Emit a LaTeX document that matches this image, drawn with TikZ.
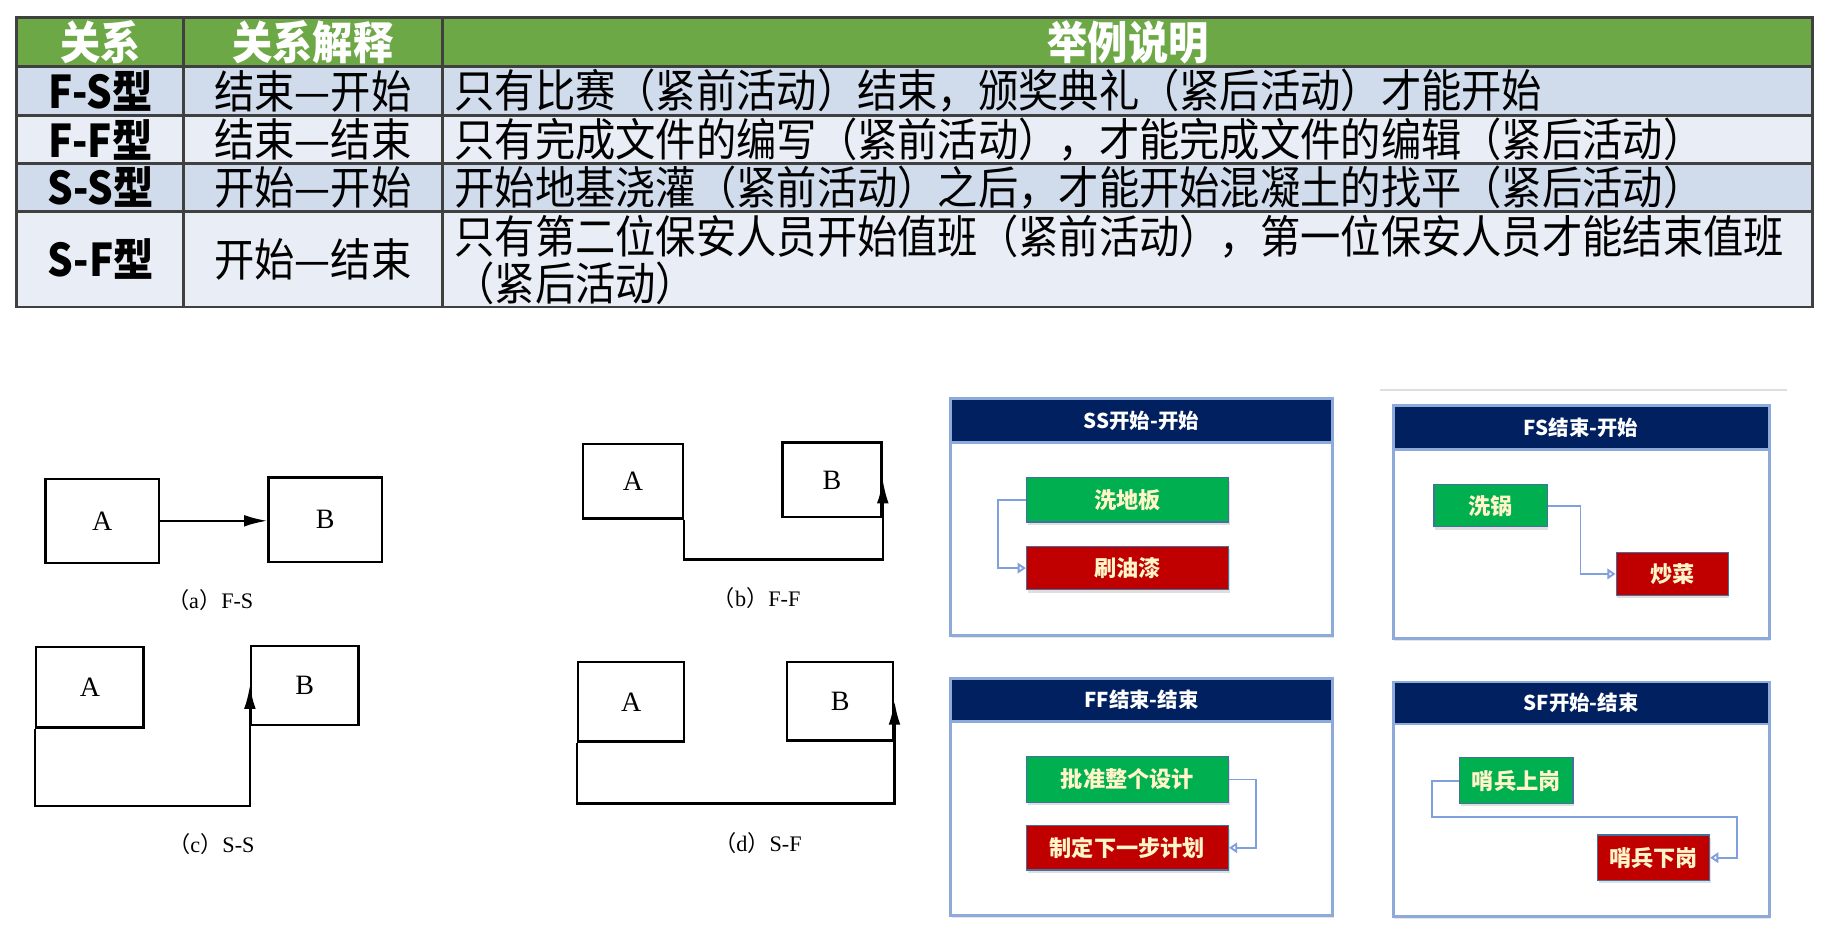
\documentclass[tikz,border=0pt]{standalone}
\usepackage{fontspec}
\usepackage{graphicx}
\setmainfont{Liberation Serif}
\newfontfamily\cjk{Noto Sans CJK SC}
\usetikzlibrary{arrows.meta,shadows}
\definecolor{hdrgreen}{HTML}{6CA846}
\definecolor{rowblue}{HTML}{D0DCEC}
\definecolor{rowlight}{HTML}{E9EDF5}
\definecolor{gridgray}{HTML}{404040}
\definecolor{navy}{HTML}{002060}
\definecolor{panelblue}{HTML}{8EAADB}
\definecolor{taskgreen}{HTML}{00B050}
\definecolor{taskred}{HTML}{C00000}
\definecolor{taskedge}{HTML}{41719C}
\definecolor{tasktext}{HTML}{FFF5C8}
\definecolor{linkblue}{HTML}{7F9FDD}
\newcommand\vstretch[1]{\scalebox{1}[1.12]{#1}}
\newcommand\tabfont{\cjk\fontsize{34.5}{40}\selectfont}
\begin{document}
\begin{tikzpicture}[x=1pt,y=-1pt,
  tcell/.style={inner sep=0pt, font=\tabfont, text=black},
  thead/.style={inner sep=0pt, font=\tabfont\bfseries, text=white},
  tkind/.style={inner sep=0pt, font=\tabfont\bfseries, text=black},
  abox/.style={draw=black, line width=2pt, inner sep=0pt, font=\fontsize{24}{24}\selectfont},
  capt/.style={inner sep=0pt, font=\fontsize{19}{19}\selectfont},
  conn/.style={draw=black, line width=2pt, -{Latex[length=20pt,width=10pt]}},
  panel/.style={draw=panelblue, line width=2.4pt, fill=white, inner sep=0pt, drop shadow={shadow xshift=1pt, shadow yshift=-2pt, opacity=0.2}},
  phead/.style={fill=navy, draw=panelblue, line width=2.4pt, inner sep=0pt, text=white, font=\cjk\bfseries\fontsize{17.5}{18}\selectfont},
  task/.style={draw=taskedge, line width=1pt, inner sep=0pt, text=tasktext, font=\cjk\bfseries\fontsize{19}{19}\selectfont, drop shadow={shadow xshift=1pt, shadow yshift=-2.5pt, opacity=0.25}},
  gtask/.style={task, fill=taskgreen},
  rtask/.style={task, fill=taskred},
  link/.style={draw=linkblue, line width=1.6pt, -{Triangle[open,length=7pt,width=9pt]}}
]
\useasboundingbox (0,0) rectangle (1568,802);
\fill[white] (0,0) rectangle (1568,802);

% ---------------- table ----------------
\fill[hdrgreen] (14,15) rectangle (1552,57);
\fill[rowblue] (14,57) rectangle (1552,99);
\fill[rowlight] (14,99) rectangle (1552,140);
\fill[rowblue] (14,140) rectangle (1552,181);
\fill[rowlight] (14,181) rectangle (1552,263);
\foreach \y in {57,99,140,181} \draw[gridgray,line width=2pt] (14,\y) -- (1552,\y);
\foreach \x in {157,379} \draw[gridgray,line width=2pt] (\x,15) -- (\x,263);
\draw[gridgray,line width=2.2pt] (14,15) rectangle (1552,263);

\node[thead] (h1) at (86,36) {\vstretch{关系}};
\node[thead] (h2) at (268,36) {\vstretch{关系解释}};
\node[thead] (h3) at (966,36) {\vstretch{举例说明}};

\node[tkind] (k1) at (86,78) {\vstretch{F-S型}};
\node[tkind] (k2) at (86,119.5) {\vstretch{F-F型}};
\node[tkind] (k3) at (86,160.5) {\vstretch{S-S型}};
\node[tkind] (k4) at (86,222) {\vstretch{S-F型}};

\node[tcell] (m1) at (268,78) {\vstretch{结束—开始}};
\node[tcell] (m2) at (268,119.5) {\vstretch{结束—结束}};
\node[tcell] (m3) at (268,160.5) {\vstretch{开始—开始}};
\node[tcell] (m4) at (268,222) {\vstretch{开始—结束}};

\node[tcell,anchor=west] (e1) at (389,78) {\vstretch{只有比赛（紧前活动）结束，颁奖典礼（紧后活动）才能开始}};
\node[tcell,anchor=west] (e2) at (389,119.5) {\vstretch{只有完成文件的编写（紧前活动），才能完成文件的编辑（紧后活动）}};
\node[tcell,anchor=west] (e3) at (389,160.5) {\vstretch{开始地基浇灌（紧前活动）之后，才能开始混凝土的找平（紧后活动）}};
\node[tcell,anchor=west] (e4) at (389,203) {\vstretch{只有第二位保安人员开始值班（紧前活动），第一位保安人员才能结束值班}};
\node[tcell,anchor=west] (e5) at (389,243) {\vstretch{（紧后活动）}};

% ---------------- line diagrams ----------------
% (a) F-S
\node[abox, minimum width=97pt, minimum height=72pt] (Aa) at (87.5,446) {A};
\node[abox, minimum width=97pt, minimum height=72pt] (Ba) at (278.5,445) {B};
\draw[conn] (Aa.east) -- (Ba.west |- Aa.east);
\node[capt] (ca) at (180,514) {{\cjk （}a{\cjk ）}F-S};

% (b) F-F
\node[abox, minimum width=86pt, minimum height=64pt] (Ab) at (542,412) {A};
\node[abox, minimum width=85pt, minimum height=64pt] (Bb) at (712.5,411) {B};
\draw[conn] (Ab.south east) -- ++(0,34) -| (Bb.east);
\node[capt] (cb) at (648,512) {{\cjk （}b{\cjk ）}F-F};

% (c) S-S
\node[abox, minimum width=92pt, minimum height=69pt] (Ac) at (77,588.5) {A};
\node[abox, minimum width=92pt, minimum height=68pt] (Bc) at (261,587) {B};
\draw[conn] (Ac.south west) -- ++(0,66) -| (Bc.west);
\node[capt] (cc) at (181,723) {{\cjk （}c{\cjk ）}S-S};

% (d) S-F
\node[abox, minimum width=91pt, minimum height=68pt] (Ad) at (540.5,601) {A};
\node[abox, minimum width=91pt, minimum height=67pt] (Bd) at (719.5,600.5) {B};
\draw[conn] (Ad.south west) -- ++(0,52) -| (Bd.east);
\node[capt] (cd) at (649,722) {{\cjk （}d{\cjk ）}S-F};

% ---------------- example panels ----------------
\draw[draw=black!13, line width=1.5pt] (1182,334) -- (1530,334);

% SS
\node[panel, minimum width=327pt, minimum height=203pt] (pss) at (977.5,442.5) {};
\node[phead, minimum width=327pt, minimum height=38pt] (hss) at (977.5,360) {SS开始-开始};
\node[gtask, minimum width=173pt, minimum height=38pt] (g1) at (965.5,428) {洗地板};
\node[rtask, minimum width=173pt, minimum height=37pt] (r1) at (965.5,486.5) {刷油漆};
\draw[link] (g1.west) -- ++(-24,0) |- (r1.west);

% FS
\node[panel, minimum width=322pt, minimum height=200pt] (pfs) at (1354,447) {};
\node[phead, minimum width=322pt, minimum height=38pt] (hfs) at (1354,366) {FS结束-开始};
\node[gtask, minimum width=97pt, minimum height=36pt] (g2) at (1276.5,433) {洗锅};
\node[rtask, minimum width=96pt, minimum height=37pt] (r2) at (1432,491.5) {炒菜};
\draw[link] (g2.east) -- ++(28,0) |- (r2.west);

% FF
\node[panel, minimum width=327pt, minimum height=203pt] (pff) at (977.5,682.5) {};
\node[phead, minimum width=327pt, minimum height=37pt] (hff) at (977.5,599.5) {FF结束-结束};
\node[gtask, minimum width=173pt, minimum height=39pt] (g3) at (965.5,667.5) {批准整个设计};
\node[rtask, minimum width=173pt, minimum height=38pt] (r3) at (965.5,726) {制定下一步计划};
\draw[link] (g3.east) -- ++(23,0) |- (r3.east);

% SF
\node[panel, minimum width=322pt, minimum height=201pt] (psf) at (1354,684.5) {};
\node[phead, minimum width=322pt, minimum height=36pt] (hsf) at (1354,602) {SF开始-结束};
\node[gtask, minimum width=97pt, minimum height=39pt] (g4) at (1298.5,668.5) {哨兵上岗};
\node[rtask, minimum width=96pt, minimum height=39pt] (r4) at (1416,734.5) {哨兵下岗};
\draw[link] (g4.west) -- ++(-23,0) -- ++(0,31.5) -- ++(261,0) |- (r4.east);
\end{tikzpicture}
\end{document}
